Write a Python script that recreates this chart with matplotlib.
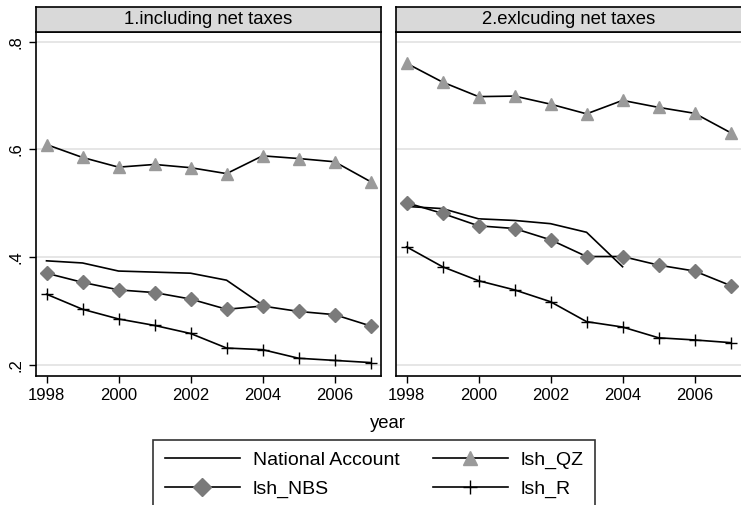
import numpy as np
import matplotlib
matplotlib.use("Agg")
from matplotlib import pyplot as plt
from matplotlib.lines import Line2D

plt.rcParams["font.family"] = ["Liberation Sans", "DejaVu Sans"]

years = [1998, 1999, 2000, 2001, 2002, 2003, 2004, 2005, 2006, 2007]
na_years = [1998, 1999, 2000, 2001, 2002, 2003, 2004]

# panel 1: including net taxes
na_inc = [0.393, 0.389, 0.374, 0.372, 0.370, 0.357, 0.311]
qz_inc = [0.609, 0.585, 0.567, 0.572, 0.566, 0.555, 0.588, 0.583, 0.577, 0.540]
nbs_inc = [0.370, 0.353, 0.339, 0.334, 0.322, 0.303, 0.309, 0.299, 0.293, 0.272]
r_inc = [0.331, 0.303, 0.285, 0.273, 0.258, 0.231, 0.228, 0.212, 0.208, 0.204]

# panel 2: excluding net taxes
na_exc = [0.494, 0.490, 0.471, 0.468, 0.462, 0.446, 0.382]
qz_exc = [0.760, 0.725, 0.698, 0.699, 0.684, 0.666, 0.691, 0.678, 0.667, 0.631]
nbs_exc = [0.501, 0.481, 0.458, 0.453, 0.432, 0.401, 0.401, 0.385, 0.374, 0.347]
r_exc = [0.419, 0.382, 0.356, 0.339, 0.317, 0.280, 0.270, 0.250, 0.246, 0.241]

titles = ["1.including net taxes", "2.exlcuding net taxes"]
yticks = [0.2, 0.4, 0.6, 0.8]
ytick_labels = [".2", ".4", ".6", ".8"]
xticks = [1998, 2000, 2002, 2004, 2006]

W, H = 741, 505
fig = plt.figure(figsize=(W / 100, H / 100), dpi=100)

panels = [(na_inc, qz_inc, nbs_inc, r_inc), (na_exc, qz_exc, nbs_exc, r_exc)]
lefts = [35.7, 395.7]
ax_w = 345.0
ax_top, ax_bot = 31.7, 375.7
strip_top = 6.5

for i, (na, qz, nbs, r) in enumerate(panels):
    ax = fig.add_axes([lefts[i] / W, 1 - ax_bot / H, ax_w / W, (ax_bot - ax_top) / H])
    ax.plot(na_years, na, color="black", lw=1.2)
    ax.plot(years, qz, color="black", lw=1.2, marker="^", ms=8,
            mfc="#9a9a9a", mec="#9a9a9a")
    ax.plot(years, nbs, color="black", lw=1.2, marker="D", ms=7,
            mfc="#7a7a7a", mec="#7a7a7a")
    ax.plot(years, r, color="black", lw=1.2, marker="+", ms=9, mew=1.0)
    ax.set_xlim(1997.7, 2007.28)
    ax.set_ylim(0.1796, 0.8186)
    ax.set_yticks(yticks)
    ax.set_xticks(xticks)
    ax.grid(axis="y", color="#e2e2e2", lw=1.2)
    ax.set_axisbelow(True)
    ax.tick_params(labelsize=12, length=5, width=1, color="black")
    if i == 0:
        ax.set_yticklabels(ytick_labels, rotation=90, va="center")
    else:
        ax.tick_params(axis="y", left=False, labelleft=False)
    for s in ax.spines.values():
        s.set_linewidth(1.2)
    if i == 1:
        ax.spines["right"].set_visible(False)
    # strip header
    sax = fig.add_axes([lefts[i] / W, 1 - ax_top / H, ax_w / W, (ax_top - strip_top) / H])
    sax.set_facecolor("#d9d9d9")
    sax.set_xticks([])
    sax.set_yticks([])
    for s in sax.spines.values():
        s.set_linewidth(1.2)
    if i == 1:
        sax.spines["right"].set_visible(False)
    sax.text(0.5, 0.5, titles[i], ha="center", va="center", fontsize=13.3,
             transform=sax.transAxes)

fig.text(388 / W, 1 - 423 / H, "year", ha="center", va="center", fontsize=13.3)

handles = [
    Line2D([], [], color="black", lw=1.2),
    Line2D([], [], color="black", lw=1.2, marker="D", ms=9, mfc="#7a7a7a", mec="#7a7a7a"),
    Line2D([], [], color="black", lw=1.2, marker="^", ms=10, mfc="#9a9a9a", mec="#9a9a9a"),
    Line2D([], [], color="black", lw=1.2, marker="+", ms=10, mew=1.0),
]
labels = ["National Account", "lsh_NBS", "lsh_QZ", "lsh_R"]
leg = fig.legend(handles, labels, ncol=2, loc="upper left",
                 bbox_to_anchor=(153 / W, 1 - 440 / H), fontsize=14,
                 frameon=True, fancybox=False, edgecolor="black",
                 handlelength=3.86, handletextpad=0.67, columnspacing=1.7,
                 labelspacing=0.56, borderpad=0.6, borderaxespad=0)
leg.get_frame().set_linewidth(1.2)

fig.savefig("out.png", dpi=100)
